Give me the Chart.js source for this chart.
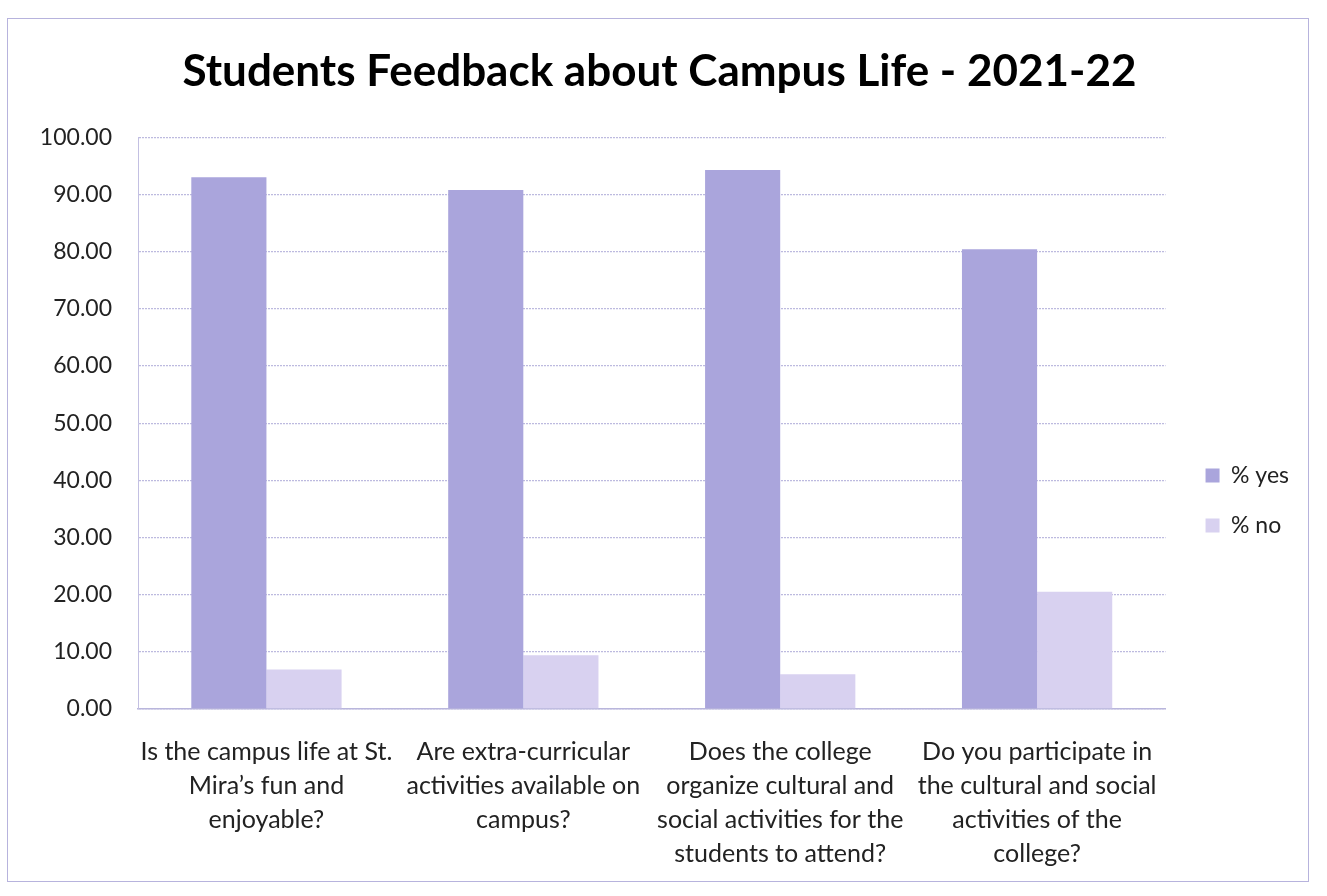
<!DOCTYPE html>
<html>
<head>
<meta charset="utf-8">
<script src="https://cdn.jsdelivr.net/npm/chart.js@4/dist/chart.umd.min.js"></script>
<style>
  html, body { margin: 0; padding: 0; background: #ffffff; }
  #wrap { position: relative; width: 1327px; height: 896px; overflow: hidden; }
  #frame { position: absolute; left: 7px; top: 18px; width: 1302px; height: 864px; border: 1.5px solid #b7b3dd; box-sizing: border-box; pointer-events: none; }
  canvas { position: absolute; left: 0; top: 0; }
</style>
</head>
<body>
<div id="wrap">
  <canvas id="c" width="1327" height="896"></canvas>
  <div id="frame"></div>
</div>
<script>
const titleText = "Students Feedback about Campus Life - 2021-22";
const categories = [
  ["Is the campus life at St.", "Mira’s fun and", "enjoyable?"],
  ["Are extra-curricular", "activities available on", "campus?"],
  ["Does the college", "organize cultural and", "social activities for the", "students to attend?"],
  ["Do you participate in", "the cultural and social", "activities of the", "college?"]
];
const seriesNames = ["% yes", "% no"];
const yesValues = [93.0, 90.8, 94.3, 80.4];
const noValues = [6.9, 9.4, 6.1, 20.5];
const yTickMin = 0, yTickMax = 100, yTickStep = 10;

const FONT = "Lato, 'Open Sans', 'Liberation Sans', sans-serif";

new Chart(document.getElementById('c'), {
  type: 'bar',
  data: {
    labels: categories,
    datasets: [
      { label: seriesNames[0], data: yesValues, backgroundColor: '#aaa5dc', borderWidth: 0 },
      { label: seriesNames[1], data: noValues, backgroundColor: '#d8d1f0', borderWidth: 0 }
    ]
  },
  options: {
    responsive: false,
    animation: false,
    devicePixelRatio: 1,
    categoryPercentage: 0.585,
    barPercentage: 1.0,
    layout: { padding: { left: 20, right: 28, top: 0, bottom: 7 } },
    plugins: {
      title: {
        display: true,
        text: titleText,
        color: '#000000',
        font: { family: FONT, size: 44, weight: 'bold' },
        padding: { top: 45, bottom: 39.5 }
      },
      legend: {
        position: 'right',
        align: 'center',
        title: { display: true, text: ' ', font: { family: FONT, size: 8, lineHeight: 1 }, padding: { top: 104, bottom: 0 } },
        labels: {
          color: '#222222',
          font: { family: FONT, size: 23 },
          boxWidth: 14,
          boxHeight: 14,
          padding: 27
        }
      },
      tooltip: { enabled: false }
    },
    scales: {
      x: {
        grid: { display: false },
        border: { display: true, color: '#b9b6dc', width: 1.5 },
        ticks: {
          color: '#222222',
          font: { family: FONT, size: 25, lineHeight: 1.36 },
          padding: 18,
          maxRotation: 0,
          autoSkip: false
        }
      },
      y: {
        min: yTickMin,
        max: yTickMax,
        afterFit: (s) => { s.width = 118; },
        ticks: {
          stepSize: yTickStep,
          color: '#222222',
          font: { family: FONT, size: 23 },
          padding: 26,
          callback: (v) => Number(v).toFixed(2)
        },
        grid: { color: '#bdbadf', lineWidth: 1.3, drawTicks: false },
        border: { display: true, color: '#c3c0e2', width: 1, dash: [2, 1] }
      },
      spacer: {
        type: 'linear',
        position: 'right',
        display: true,
        afterFit: (s) => { s.width = 13; },
        grid: { display: false, drawTicks: false },
        border: { display: false },
        ticks: { display: false }
      }
    }
  }
});
</script>
</body>
</html>
